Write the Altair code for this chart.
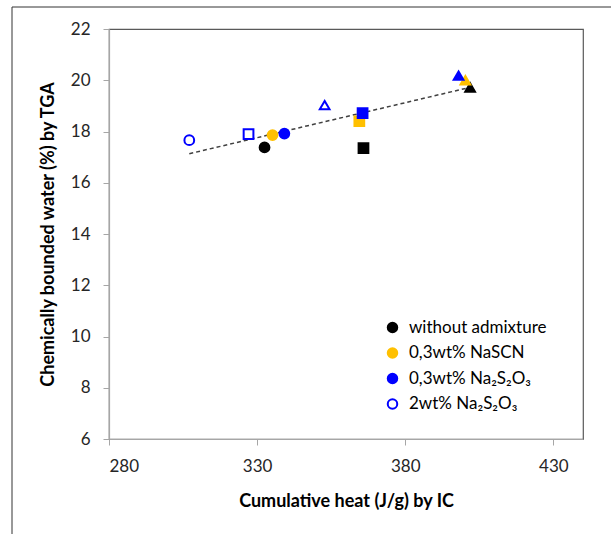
import altair as alt
import pandas as pd

series_names = ["without admixture", "0,3wt% NaSCN", "0,3wt% Na₂S₂O₃", "2wt% Na₂S₂O₃"]
series_fill = ["#000000", "#FFC000", "#0000FF", "#FFFFFF"]
series_stroke = ["#000000", "#FFC000", "#0000FF", "#0000FF"]
shape_groups = ["circle", "square", "triangle"]
shape_marks = ["circle", "square", "triangle-up"]

point_series = ["without admixture"] * 3 + ["0,3wt% NaSCN"] * 3 + ["0,3wt% Na₂S₂O₃"] * 3 + ["2wt% Na₂S₂O₃"] * 3
point_shape = shape_groups * 4
heat = [332.5, 365.9, 401.9, 335.2, 364.5, 400.3, 339.2, 365.6, 398.0, 307.1, 327.1, 352.8]
water = [17.38, 17.35, 19.72, 17.86, 18.40, 20.00, 17.92, 18.72, 20.18, 17.66, 17.90, 19.03]

x_ticks = [280, 330, 380, 430]
y_ticks = [6, 8, 10, 12, 14, 16, 18, 20, 22]

df = pd.DataFrame({"series": point_series, "group": point_shape, "heat": heat, "water": water})

W, H = 474, 410
FONT = "Lato"

xenc = alt.X("heat:Q", scale=alt.Scale(domain=[280, 440], nice=False, zero=False),
             axis=alt.Axis(values=x_ticks, title="Cumulative heat (J/g) by IC", grid=False,
                           tickSize=6, labelPadding=13, titlePadding=18))
yenc = alt.Y("water:Q", scale=alt.Scale(domain=[6, 22], nice=False, zero=False),
             axis=alt.Axis(values=y_ticks, title="Chemically bounded water (%) by TGA", grid=False,
                           tickSize=6, labelPadding=13, titlePadding=13))

base = alt.Chart(df)

trend = base.transform_regression("heat", "water").mark_line(
    strokeDash=[4, 3], color="#404040", strokeWidth=1.5
).encode(x=xenc, y=yenc)

leg = alt.Legend(title=None, orient="none", legendX=275, legendY=290, symbolType="circle",
                 symbolSize=90, symbolStrokeWidth=2, labelFont=FONT, labelFontSize=17,
                 labelColor="#000000", labelOffset=8, rowPadding=6.5, padding=0)

points = base.mark_point(filled=True, size=95, strokeWidth=2, opacity=1).encode(
    x=xenc, y=yenc,
    fill=alt.Fill("series:N", scale=alt.Scale(domain=series_names, range=series_fill), legend=leg),
    stroke=alt.Stroke("series:N", scale=alt.Scale(domain=series_names, range=series_stroke), legend=leg),
    shape=alt.Shape("group:N", scale=alt.Scale(domain=shape_groups, range=shape_marks), legend=None),
)

frame_left = alt.Chart(pd.DataFrame({"a": [0]})).mark_rule(color="#333333", strokeWidth=1).encode(
    x=alt.value(-97), y=alt.value(-22), y2=alt.value(H + 100))
frame_top = alt.Chart(pd.DataFrame({"a": [0]})).mark_rule(color="#333333", strokeWidth=1).encode(
    x=alt.value(-97), x2=alt.value(W + 40), y=alt.value(-22))

chart = alt.layer(frame_left, frame_top, trend, points).properties(
    width=W, height=H,
    autosize=alt.AutoSizeParams(type="none"),
    padding={"left": 109, "top": 29, "right": 28, "bottom": 95},
).configure_view(stroke="#595959", strokeWidth=1.2).configure_axis(
    labelFont=FONT, labelFontSize=17, labelColor="#262626",
    titleFont=FONT, titleFontSize=18, titleFontWeight="bold", titleColor="#000000",
    domainColor="#A6A6A6", tickColor="#A6A6A6", domainWidth=1.2,
)

chart.save("out.html", embed_options={"renderer": "svg", "actions": False})
